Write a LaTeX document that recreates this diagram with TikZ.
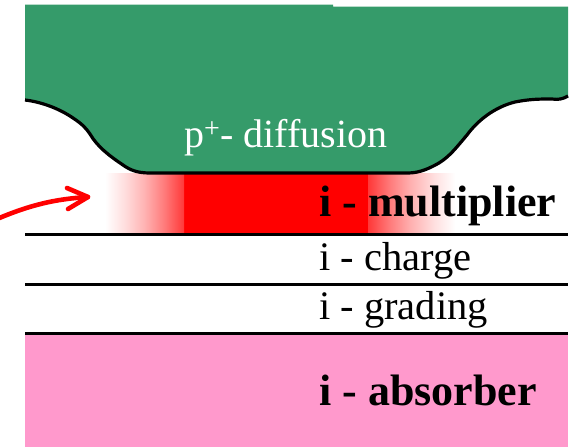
\documentclass[tikz,border=0pt]{standalone}
\usepackage{fontspec}
\setmainfont{Liberation Serif}
\definecolor{diffgreen}{RGB}{53,155,106}
\definecolor{absorberpink}{RGB}{255,153,204}
\pgfdeclarehorizontalshading{fadeL}{100bp}{color(0bp)=(white); color(25bp)=(white); color(37.5bp)=(red!13); color(50bp)=(red!30); color(62.5bp)=(red!52); color(75bp)=(red!78); color(100bp)=(red!78)}
\pgfdeclarehorizontalshading{fadeR}{100bp}{color(0bp)=(red!78); color(25bp)=(red!78); color(37.5bp)=(red!52); color(50bp)=(red!30); color(62.5bp)=(red!13); color(75bp)=(white); color(100bp)=(white)}
\tikzset{
  layerline/.style={draw=black,line width=3pt},
  edgeline/.style={draw=black,line width=3.2pt,line join=round},
  lab/.style={anchor=base west,inner sep=0pt,text=black},
  redarrow/.style={draw=red,line width=4.6pt,line cap=round,line join=round}
}
\begin{document}
\begin{tikzpicture}[x=1pt,y=-1pt]
\useasboundingbox (0,0) rectangle (573,447);
% absorber
\fill[absorberpink] (25,333) rectangle (568,447);
% multiplier
\fill[red] (184,173) rectangle (368,234);
\shade[shading=fadeL] (105,173) rectangle (184,234);
\shade[shading=fadeR] (368,173) rectangle (455,234);
% diffusion
\def\edge{(25,100) .. controls (42,102) and (60,109) .. (73,118)
  .. controls (82,124) and (86,128) .. (90,134)
  .. controls (97,146) and (108,155) .. (123,165)
  .. controls (130,170) and (137,173) .. (150,173)
  -- (408,173)
  .. controls (420,173) and (430,168) .. (439,163)
  .. controls (450,156) and (456,148) .. (467,135)
  .. controls (478,120) and (495,107) .. (515,102)
  .. controls (530,99) and (540,99) .. (552,99)
  .. controls (558,100) and (563,99) .. (568,96)}
\fill[diffgreen] (25,4.5) -- (333,4.5) -- (333,6.5) -- (568,6.5) -- (568,96)
  .. controls (563,99) and (558,100) .. (552,99)
  .. controls (540,99) and (530,99) .. (515,102)
  .. controls (495,107) and (478,120) .. (467,135)
  .. controls (456,148) and (450,156) .. (439,163)
  .. controls (430,168) and (420,173) .. (408,173)
  -- (150,173)
  .. controls (137,173) and (130,170) .. (123,165)
  .. controls (108,155) and (97,146) .. (90,134)
  .. controls (86,128) and (82,124) .. (73,118)
  .. controls (60,109) and (42,102) .. (25,100) -- cycle;
\draw[edgeline] \edge;
% layer lines
\coordinate (l1a) at (25,234); \coordinate (l1b) at (568,234);
\coordinate (l2a) at (25,284); \coordinate (l2b) at (568,284);
\coordinate (l3a) at (25,333); \coordinate (l3b) at (568,333);
\draw[layerline] (l1a) -- (l1b);
\draw[layerline] (l2a) -- (l2b);
\draw[layerline] (l3a) -- (l3b);
% arrow
\coordinate (tail) at (-3,219); \coordinate (tip) at (88,197);
\coordinate (hu) at (67,188); \coordinate (hd) at (68,209);
\draw[redarrow] (tail) .. controls (30,205) and (55,199) .. (tip);
\draw[redarrow] (hu) -- (tip) -- (hd);
% labels
\node[lab,text=white,font=\fontsize{40}{44}\selectfont] (diff) at (184,147) {p\textsuperscript{+}- diffusion};
\node[lab,font=\fontsize{44}{48}\selectfont\bfseries] (mult) at (319,216) {i - multiplier};
\node[lab,font=\fontsize{40.5}{44}\selectfont] (charge) at (319,270) {i - charge};
\node[lab,font=\fontsize{40.5}{44}\selectfont] (grad) at (319,319) {i - grading};
\node[lab,font=\fontsize{44}{48}\selectfont\bfseries] (abs) at (319,405) {i - absorber};
\end{tikzpicture}
\end{document}
